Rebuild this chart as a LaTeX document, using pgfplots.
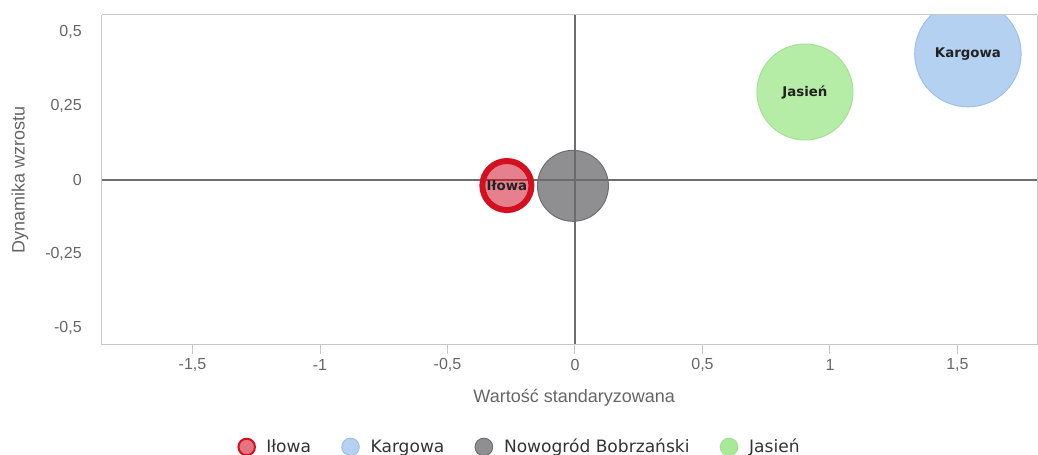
\documentclass[border=0pt]{standalone}
\usepackage{fontspec}
\setmainfont{Liberation Sans}
\newfontfamily\dejavu{DejaVu Sans}
\usepackage{pgfplots}
\pgfplotsset{compat=1.18}
\definecolor{ilowa}{HTML}{D0021B}
\definecolor{ilowaedge}{HTML}{D3101F}
\definecolor{kargowa}{HTML}{6BA3E3}
\definecolor{kargowaedge}{HTML}{9EC0E8}
\definecolor{nowo}{HTML}{6A6A6E}
\definecolor{nowoedge}{HTML}{6E6E6E}
\definecolor{jasien}{HTML}{6DDB4D}
\definecolor{jasienedge}{HTML}{A5E096}
\definecolor{ticktext}{HTML}{666666}
\definecolor{legendtext}{HTML}{333333}
\definecolor{frame}{HTML}{C8C8C8}
\definecolor{zeroline}{HTML}{6E6E6E}
\definecolor{bubbletext}{HTML}{222222}
\begin{document}
\begin{tikzpicture}
\begin{axis}[
 at={(0,0)}, anchor=south west,
 scale only axis, width=701.25bp, height=246.75bp,
 xmin=-1.855, xmax=1.812, ymin=-0.556, ymax=0.559,
 axis line style={draw=frame, line width=0.75bp},
 xtick={-1.5,-1,-0.5,0,0.5,1,1.5},
 xticklabels={{-1,5},{-1},{-0,5},{0},{0,5},{1},{1,5}},
 ytick={-0.5,-0.25,0,0.25,0.5},
 yticklabels={{-0,5},{-0,25},{0},{0,25},{0,5}},
 tick align=outside, major tick length=7.5bp,
 xtick pos=bottom, ytick pos=left,
 x tick style={draw=frame, line width=0.75bp},
 y tick style={draw=none},
 tick label style={font=\fontsize{12bp}{14bp}\selectfont, text=ticktext, inner sep=0pt},
 xticklabel style={anchor=center, yshift=-8.25bp},
 yticklabel style={anchor=east, xshift=-7.5bp},
 extra x ticks={0}, extra x tick labels={},
 extra y ticks={0}, extra y tick labels={},
 extra tick style={grid=major, major grid style={draw=zeroline, line width=1.5bp}},
 xlabel={Wartość standaryzowana}, ylabel={Dynamika wzrostu},
 label style={font=\fontsize{13.5bp}{16bp}\selectfont, text=ticktext},
 xlabel style={at={(axis description cs:0.505,-0.1641)}, anchor=center},
 ylabel style={at={(axis description cs:-0.0877,0.5)}, anchor=center},
 clip marker paths=true,
 legend style={at={(axis description cs:0.446,-0.313)}, anchor=center, draw=none, fill=none,
   legend columns=4, font=\dejavu\fontsize{12.8bp}{15bp}\selectfont, text=legendtext,
   inner sep=0pt, nodes={inner sep=0pt},
   /tikz/every odd column/.append style={column sep=8.5bp},
   /tikz/every even column/.append style={column sep=23bp}},
 legend image code/.code={\draw[#1] plot coordinates {(0bp,0bp)};},
 nodes near coords style={anchor=center, font=\dejavu\bfseries\fontsize{10bp}{12bp}\selectfont, text=bubbletext, text opacity=1},
]
% legend
\addlegendimage{only marks, mark=*, mark size=6.2bp, mark options={draw=ilowaedge, fill=ilowa, fill opacity=0.55, line width=1.5bp}}
\addlegendentry{Iłowa}
\addlegendimage{only marks, mark=*, mark size=6.6bp, mark options={draw=kargowaedge, fill=kargowa, fill opacity=0.5, line width=0.75bp}}
\addlegendentry{Kargowa}
\addlegendimage{only marks, mark=*, mark size=6.6bp, mark options={draw=nowoedge, fill=nowo, fill opacity=0.75, line width=0.75bp}}
\addlegendentry{Nowogród Bobrzański}
\addlegendimage{only marks, mark=*, mark size=6.6bp, mark options={draw=jasienedge, fill=jasien, fill opacity=0.6, line width=0.75bp}}
\addlegendentry{Jasień}
% bubbles
\addplot[only marks, mark=*, mark size=18.4bp, mark options={draw=ilowaedge, line width=4.5bp, fill=ilowa, fill opacity=0.5},
  forget plot] coordinates {(-0.267,-0.019)};
\addplot[only marks, mark=*, mark size=39.9bp, mark options={draw=kargowaedge, line width=0.75bp, fill=kargowa, fill opacity=0.5},
  forget plot] coordinates {(1.541,0.428)};
\addplot[only marks, mark=*, mark size=26.6bp, mark options={draw=nowoedge, line width=0.75bp, fill=nowo, fill opacity=0.75},
  forget plot] coordinates {(-0.008,-0.02)};
\addplot[only marks, mark=*, mark size=36bp, mark options={draw=jasienedge, line width=0.75bp, fill=jasien, fill opacity=0.5},
  forget plot] coordinates {(0.902,0.298)};
% labels
\addplot[only marks, mark=none, nodes near coords={Iłowa}, forget plot] coordinates {(-0.267,-0.019)};
\addplot[only marks, mark=none, nodes near coords={Kargowa}, forget plot] coordinates {(1.541,0.428)};
\addplot[only marks, mark=none, nodes near coords={Jasień}, forget plot] coordinates {(0.902,0.298)};
\end{axis}
% trim the part of the bubble that spills above the plot area
\fill[white] (-76.5bp,247.1bp) rectangle (702bp,262bp);
\draw[frame, line width=0.75bp] (0bp,246.75bp) -- (701.25bp,246.75bp);
\pgfresetboundingbox
\path[use as bounding box] (-76.5bp,-83.25bp) rectangle (702bp,258bp);
\end{tikzpicture}
\end{document}
